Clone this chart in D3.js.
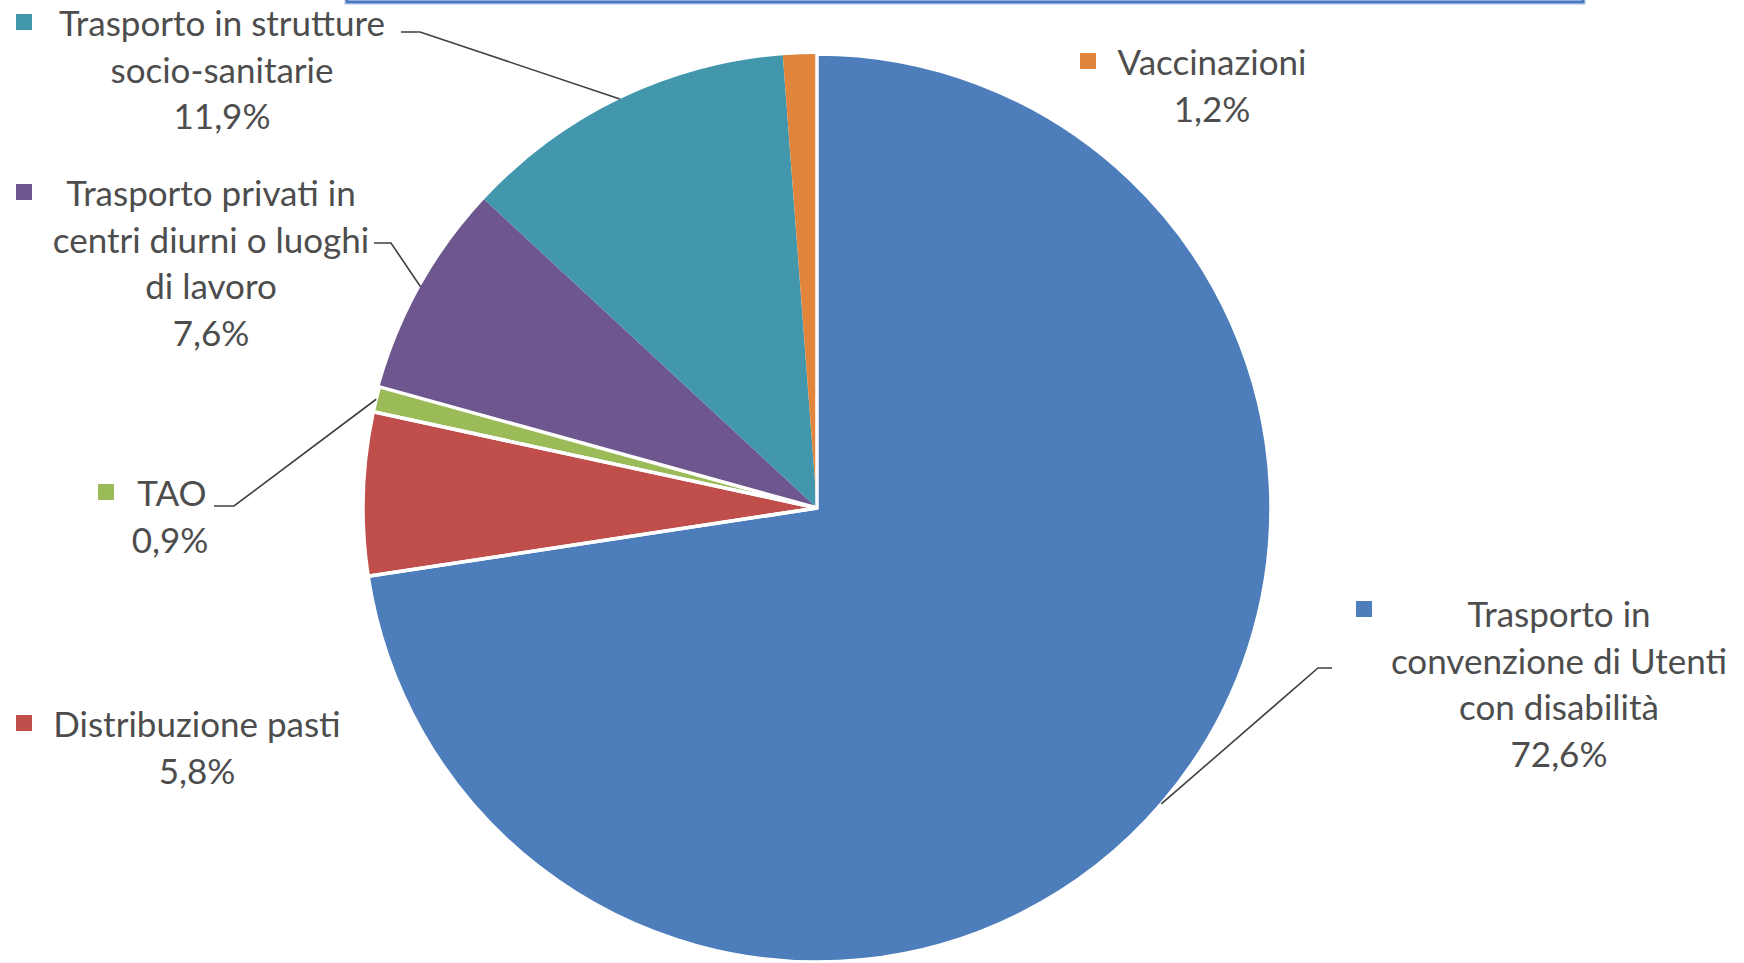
<!DOCTYPE html>
<html><head><meta charset="utf-8">
<script src="https://cdn.jsdelivr.net/npm/d3@7"></script>
<style>
html,body{margin:0;padding:0;background:#fff;}
svg{display:block;}
</style></head>
<body>
<svg id="chart" width="1744" height="963"></svg>
<script>
// ---- data ----
const categories = [
  "Trasporto in convenzione di Utenti con disabilità",
  "Distribuzione pasti",
  "TAO",
  "Trasporto privati in centri diurni o luoghi di lavoro",
  "Trasporto in strutture socio-sanitarie",
  "Vaccinazioni"
];
const values = [72.6, 5.8, 0.9, 7.6, 11.9, 1.2];
const valueLabels = ["72,6%", "5,8%", "0,9%", "7,6%", "11,9%", "1,2%"];
const labelLines = [
  ["Trasporto in", "convenzione di Utenti", "con disabilità"],
  ["Distribuzione pasti"],
  ["TAO"],
  ["Trasporto privati in", "centri diurni o luoghi", "di lavoro"],
  ["Trasporto in strutture", "socio-sanitarie"],
  ["Vaccinazioni"]
];
const colors = ["#4d7ebb", "#c04f4c", "#9abb57", "#6e568e", "#4297ad", "#e0853b"];

// ---- layout ----
const cx = 817, cy = 508, R = 454;
const lineH = 46.5;
const fontSize = 35;
const labelPos = [
  {x: 1559, y: 613, mx: 1364, my: 609},
  {x: 197, y: 723, mx: 24, my: 723},
  {x: 172, y: 492, mx: 106, my: 492, pctX: 170},
  {x: 211, y: 192, mx: 24, my: 192},
  {x: 222, y: 22, mx: 24, my: 22},
  {x: 1212, y: 61, mx: 1088, my: 61}
];
const leaders = {
  0: [[1332, 668], [1318, 668]],
  2: [[214, 506], [234, 506]],
  3: [[374, 243], [391, 243]],
  4: [[401, 32], [420, 32]]
};

const svg = d3.select("#chart");

// cut-off title box border at top
svg.append("rect").attr("x", 347).attr("y", -30).attr("width", 1236).attr("height", 32)
  .attr("fill", "none").attr("stroke", "#a9c0e4").attr("stroke-width", 5);
svg.append("rect").attr("x", 347).attr("y", -30).attr("width", 1236).attr("height", 32)
  .attr("fill", "none").attr("stroke", "#4a78c0").attr("stroke-width", 2.5);

const pie = d3.pie().value(d => d).sort(null);
const arcs = pie(values);
const arc = d3.arc().innerRadius(0).outerRadius(R);
const edge = d3.arc().innerRadius(R).outerRadius(R);

const g = svg.append("g").attr("transform", `translate(${cx},${cy})`);
g.selectAll("path.slice").data(arcs).join("path")
  .attr("class", "slice")
  .attr("d", arc)
  .attr("fill", (d, i) => colors[i]);
// white separators
const sepIdx = [0, 1, 2];
g.selectAll("path.sep").data(arcs.filter((d, i) => sepIdx.includes(i))).join("path")
  .attr("class", "sep")
  .attr("d", arc)
  .attr("fill", "none")
  .attr("stroke", "#fff")
  .attr("stroke-width", 3.5)
  .attr("stroke-linejoin", "miter");

// leader lines
Object.keys(leaders).forEach(k => {
  const i = +k;
  const c = edge.centroid(arcs[i]);
  const pts = leaders[i].concat([[cx + c[0], cy + c[1]]]);
  svg.append("path")
    .attr("d", d3.line()(pts))
    .attr("fill", "none")
    .attr("stroke", "#404040")
    .attr("stroke-width", 1.6);
});

// labels
const font = "Lato, 'Open Sans', sans-serif";
arcs.forEach((a, i) => {
  const p = labelPos[i];
  svg.append("rect")
    .attr("x", p.mx - 8).attr("y", p.my - 8)
    .attr("width", 16).attr("height", 16)
    .attr("fill", colors[i]);
  const lines = labelLines[i];
  lines.forEach((t, j) => {
    svg.append("text")
      .attr("x", p.x).attr("y", p.y + j * lineH)
      .attr("text-anchor", "middle")
      .attr("dominant-baseline", "central")
      .attr("font-family", font)
      .attr("font-size", fontSize)
      .attr("fill", "#4d4d4d")
      .text(t);
  });
  svg.append("text")
    .attr("x", p.pctX || p.x).attr("y", p.y + lines.length * lineH)
    .attr("text-anchor", "middle")
    .attr("dominant-baseline", "central")
    .attr("font-family", font)
    .attr("font-size", fontSize)
    .attr("fill", "#4d4d4d")
    .text(valueLabels[i]);
});
</script>
</body></html>
